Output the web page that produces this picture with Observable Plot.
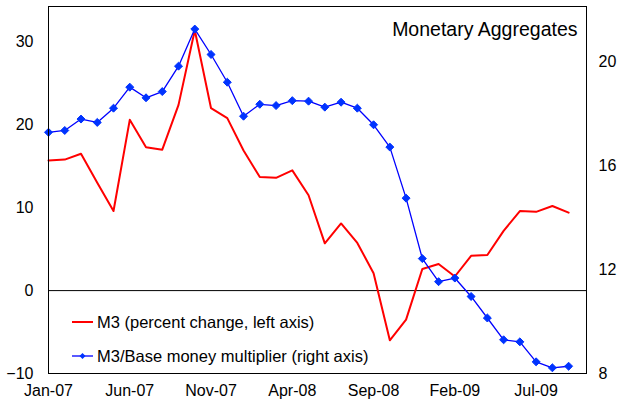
<!DOCTYPE html>
<html>
<head>
<meta charset="utf-8">
<script src="https://cdn.jsdelivr.net/npm/d3@7"></script>
<script src="https://cdn.jsdelivr.net/npm/@observablehq/plot@0.6"></script>
<style>
  html, body { margin: 0; padding: 0; background: #fff; }
  #wrap { position: relative; width: 617px; height: 404px; font-family: "Liberation Sans", Arial, sans-serif; }
  #legend { position: absolute; left: 72px; top: 312px; font-size: 16.5px; color: #000; }
  .item { display: flex; align-items: center; height: 20px; margin-bottom: 14px; }
  .item svg { margin-right: 4px; }
</style>
</head>
<body>
<div id="wrap"></div>
<script>
// Months Jan-07 .. Sep-09
const months = ["Jan-07","Feb-07","Mar-07","Apr-07","May-07","Jun-07","Jul-07","Aug-07","Sep-07","Oct-07","Nov-07","Dec-07",
  "Jan-08","Feb-08","Mar-08","Apr-08","May-08","Jun-08","Jul-08","Aug-08","Sep-08","Oct-08","Nov-08","Dec-08",
  "Jan-09","Feb-09","Mar-09","Apr-09","May-09","Jun-09","Jul-09","Aug-09","Sep-09"];
// M3, percent change (left axis)
const m3 = [15.7, 15.8, 16.5, 13.0, 9.6, 20.6, 17.3, 17.0, 22.4, 31.4, 22.0, 20.8, 16.9, 13.7, 13.6, 14.5, 11.5,
  5.7, 8.1, 5.75, 2.1, -6.0, -3.5, 2.6, 3.2, 1.7, 4.2, 4.3, 7.2, 9.6, 9.5, 10.2, 9.4];
// M3/Base money multiplier (right axis)
const mult = [17.30, 17.37, 17.81, 17.68, 18.23, 19.04, 18.63, 18.87, 19.85, 21.28, 20.30, 19.23, 17.92, 18.38, 18.33, 18.52, 18.50,
  18.27, 18.46, 18.23, 17.59, 16.73, 14.76, 12.43, 11.54, 11.68, 10.97, 10.14, 9.30, 9.22, 8.45, 8.22, 8.28];
const leftTicks = [-10, 0, 10, 20, 30];
const rightTicks = [8, 12, 16, 20];
const xTickIdx = [0, 5, 10, 15, 20, 25, 30];
const title = "Monetary Aggregates";
const seriesNames = ["M3 (percent change, left axis)", "M3/Base money multiplier (right axis)"];

// Axis domains
const leftDomain = [-10, 34.27];
const rightDomain = [8, 22.15];
const k = (leftDomain[1] - leftDomain[0]) / (rightDomain[1] - rightDomain[0]);
const toLeft = v => leftDomain[0] + (v - rightDomain[0]) * k;
const fromLeft = v => rightDomain[0] + (v - leftDomain[0]) / k;

const redData = m3.map((v, i) => ({i, v}));
const blueData = mult.map((v, i) => ({i, v: toLeft(v)}));

const plot = Plot.plot({
  width: 617,
  height: 404,
  marginLeft: 48,
  marginRight: 31,
  marginTop: 6,
  marginBottom: 31,
  style: {fontFamily: "'Liberation Sans', Arial, sans-serif", fontSize: "16px", color: "#000", background: "#fff"},
  x: {domain: [0, 33.1], label: null},
  y: {domain: leftDomain, label: null},
  marks: [
    Plot.ruleY([0], {stroke: "#000", strokeWidth: 1}),
    Plot.line(redData, {x: "i", y: "v", stroke: "#ff0000", strokeWidth: 2}),
    Plot.line(blueData, {x: "i", y: "v", stroke: "#0000ff", strokeWidth: 1.3}),
    Plot.dot(blueData, {x: "i", y: "v", symbol: "diamond2", r: 3.6, fill: "#0033ff", stroke: "#0033ff", strokeWidth: 1}),
    Plot.axisX({ticks: xTickIdx, tickFormat: d => months[d], tickSize: 0, tickPadding: 11, fontSize: 16, label: null}),
    Plot.axisY({anchor: "left", ticks: leftTicks, tickSize: 0, tickPadding: 15, fontSize: 16, label: null}),
    Plot.axisY({anchor: "right", ticks: rightTicks.map(toLeft), tickFormat: d => String(Math.round(fromLeft(d))), tickSize: 0, tickPadding: 12, fontSize: 16, label: null}),
    Plot.frame({stroke: "#000", strokeWidth: 1}),
    Plot.text([title], {frameAnchor: "top-right", dx: -9, dy: 23, lineAnchor: "middle", textAnchor: "end", fontSize: 19.5, fill: "#000"})
  ]
});

const wrap = document.getElementById("wrap");
wrap.appendChild(plot);

const legend = document.createElement("div");
legend.id = "legend";
legend.innerHTML = `
  <div class="item"><svg width="21" height="10"><line x1="0" x2="21" y1="5" y2="5" stroke="#ff0000" stroke-width="2"/></svg><span>${seriesNames[0]}</span></div>
  <div class="item"><svg width="21" height="10"><line x1="0" x2="21" y1="5" y2="5" stroke="#0000ff" stroke-width="1.3"/><path d="M10.5,2 L13.5,5 L10.5,8 L7.5,5 Z" fill="#0033ff"/></svg><span>${seriesNames[1]}</span></div>
`;
wrap.appendChild(legend);
</script>
</body>
</html>
